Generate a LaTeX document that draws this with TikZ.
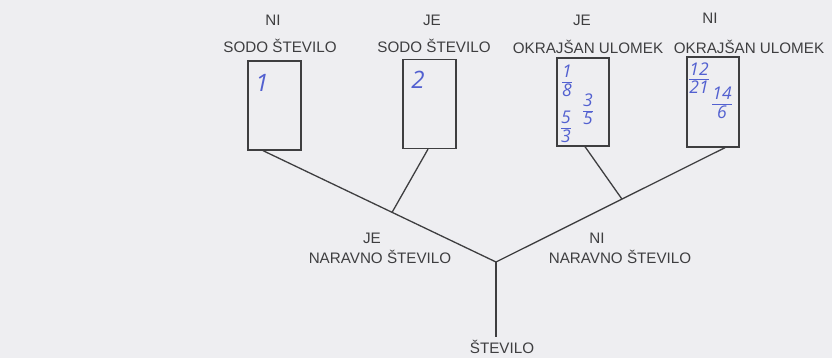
\documentclass[tikz,border=0pt]{standalone}
\usepackage{fontspec}
\setmainfont{Liberation Sans}
\newfontfamily\handfont{Open Sans}
\usetikzlibrary{calc}
\definecolor{paper}{RGB}{238,238,241}
\definecolor{ink}{RGB}{62,62,64}
\definecolor{pen}{RGB}{82,96,208}
% handwritten fraction: numerator over a bar over denominator
\newcommand\handfrac[2]{{\renewcommand\arraystretch{0.78}\setlength\arrayrulewidth{1pt}%
  \begin{tabular}{@{}c@{}}#1\\\hline #2\end{tabular}}}
\tikzset{
  label/.style={inner sep=0pt, text=ink, font=\fontsize{15.2}{18}\selectfont},
  answerbox/.style={draw=ink, line width=1.3pt, minimum width=53pt, minimum height=89pt, inner sep=0pt},
  branch/.style={draw=ink, line width=1.3pt},
  hand/.style={inner sep=0pt, text=pen, font=\handfont\itshape\fontsize{24}{26}\selectfont},
  handsmall/.style={inner sep=0pt, text=pen, font=\handfont\itshape\fontsize{17.5}{19}\selectfont}
}
\begin{document}
\begin{tikzpicture}[x=1pt, y=-1pt]
  \fill[paper] (0,0) rectangle (832,358);
  \useasboundingbox (0,0) rectangle (832,358);

  % category boxes
  \node[answerbox] (box1) at (274.5,105.5) {};
  \node[answerbox] (box2) at (429.5,104) {};
  \node[answerbox, minimum width=52pt, minimum height=88pt] (box3) at (583,102) {};
  \node[answerbox, minimum width=52pt, minimum height=90pt] (box4) at (713,102) {};

  % headings above the boxes
  \node[label] (h1a) at (273,20) {NI};
  \node[label] (h1b) at (280,46) {SODO ŠTEVILO};
  \node[label] (h2a) at (432,20) {JE};
  \node[label] (h2b) at (434,46) {SODO ŠTEVILO};
  \node[label] (h3a) at (582,20) {JE};
  \node[label] (h3b) at (588,47) {OKRAJŠAN ULOMEK};
  \node[label] (h4a) at (710,18) {NI};
  \node[label] (h4b) at (749,47) {OKRAJŠAN ULOMEK};

  % branch labels and root
  \node[label] (n1a) at (372,238) {JE};
  \node[label] (n1b) at (380,257) {NARAVNO ŠTEVILO};
  \node[label] (n2a) at (597,238) {NI};
  \node[label] (n2b) at (620,257) {NARAVNO ŠTEVILO};
  \node[label] (root) at (502,347) {ŠTEVILO};

  % tree
  \coordinate (j0) at (496,262);
  \coordinate (b1) at ([xshift=-11.5pt]box1.south);
  \coordinate (b4) at ([xshift=12pt]box4.south);
  \coordinate (j1) at ($(j0)!0.446!(b1)$);
  \coordinate (j2) at ($(j0)!0.55!(b4)$);
  \draw[branch] (j0) -- ([yshift=3pt]j0 |- root.north);
  \draw[branch] (j0) -- (b1);
  \draw[branch] (j0) -- (b4);
  \draw[branch] (j1) -- ([xshift=-1.5pt]box2.south);
  \draw[branch] (j2) -- ([xshift=2pt]box3.south);

  % handwritten answers
  \node[hand] (a1) at (262,83) {1};
  \node[hand] (a2) at (418,80) {2};
  \node[handsmall] (f1) at (567,83) {\handfrac{1}{8}};
  \node[handsmall] (f2) at (588,111) {\handfrac{3}{5}};
  \node[handsmall] (f3) at (566,129) {\handfrac{5}{3}};
  \node[handsmall] (f4) at (699,80) {\handfrac{12}{21}};
  \node[handsmall] (f5) at (722,105) {\handfrac{14}{6}};
\end{tikzpicture}
\end{document}
